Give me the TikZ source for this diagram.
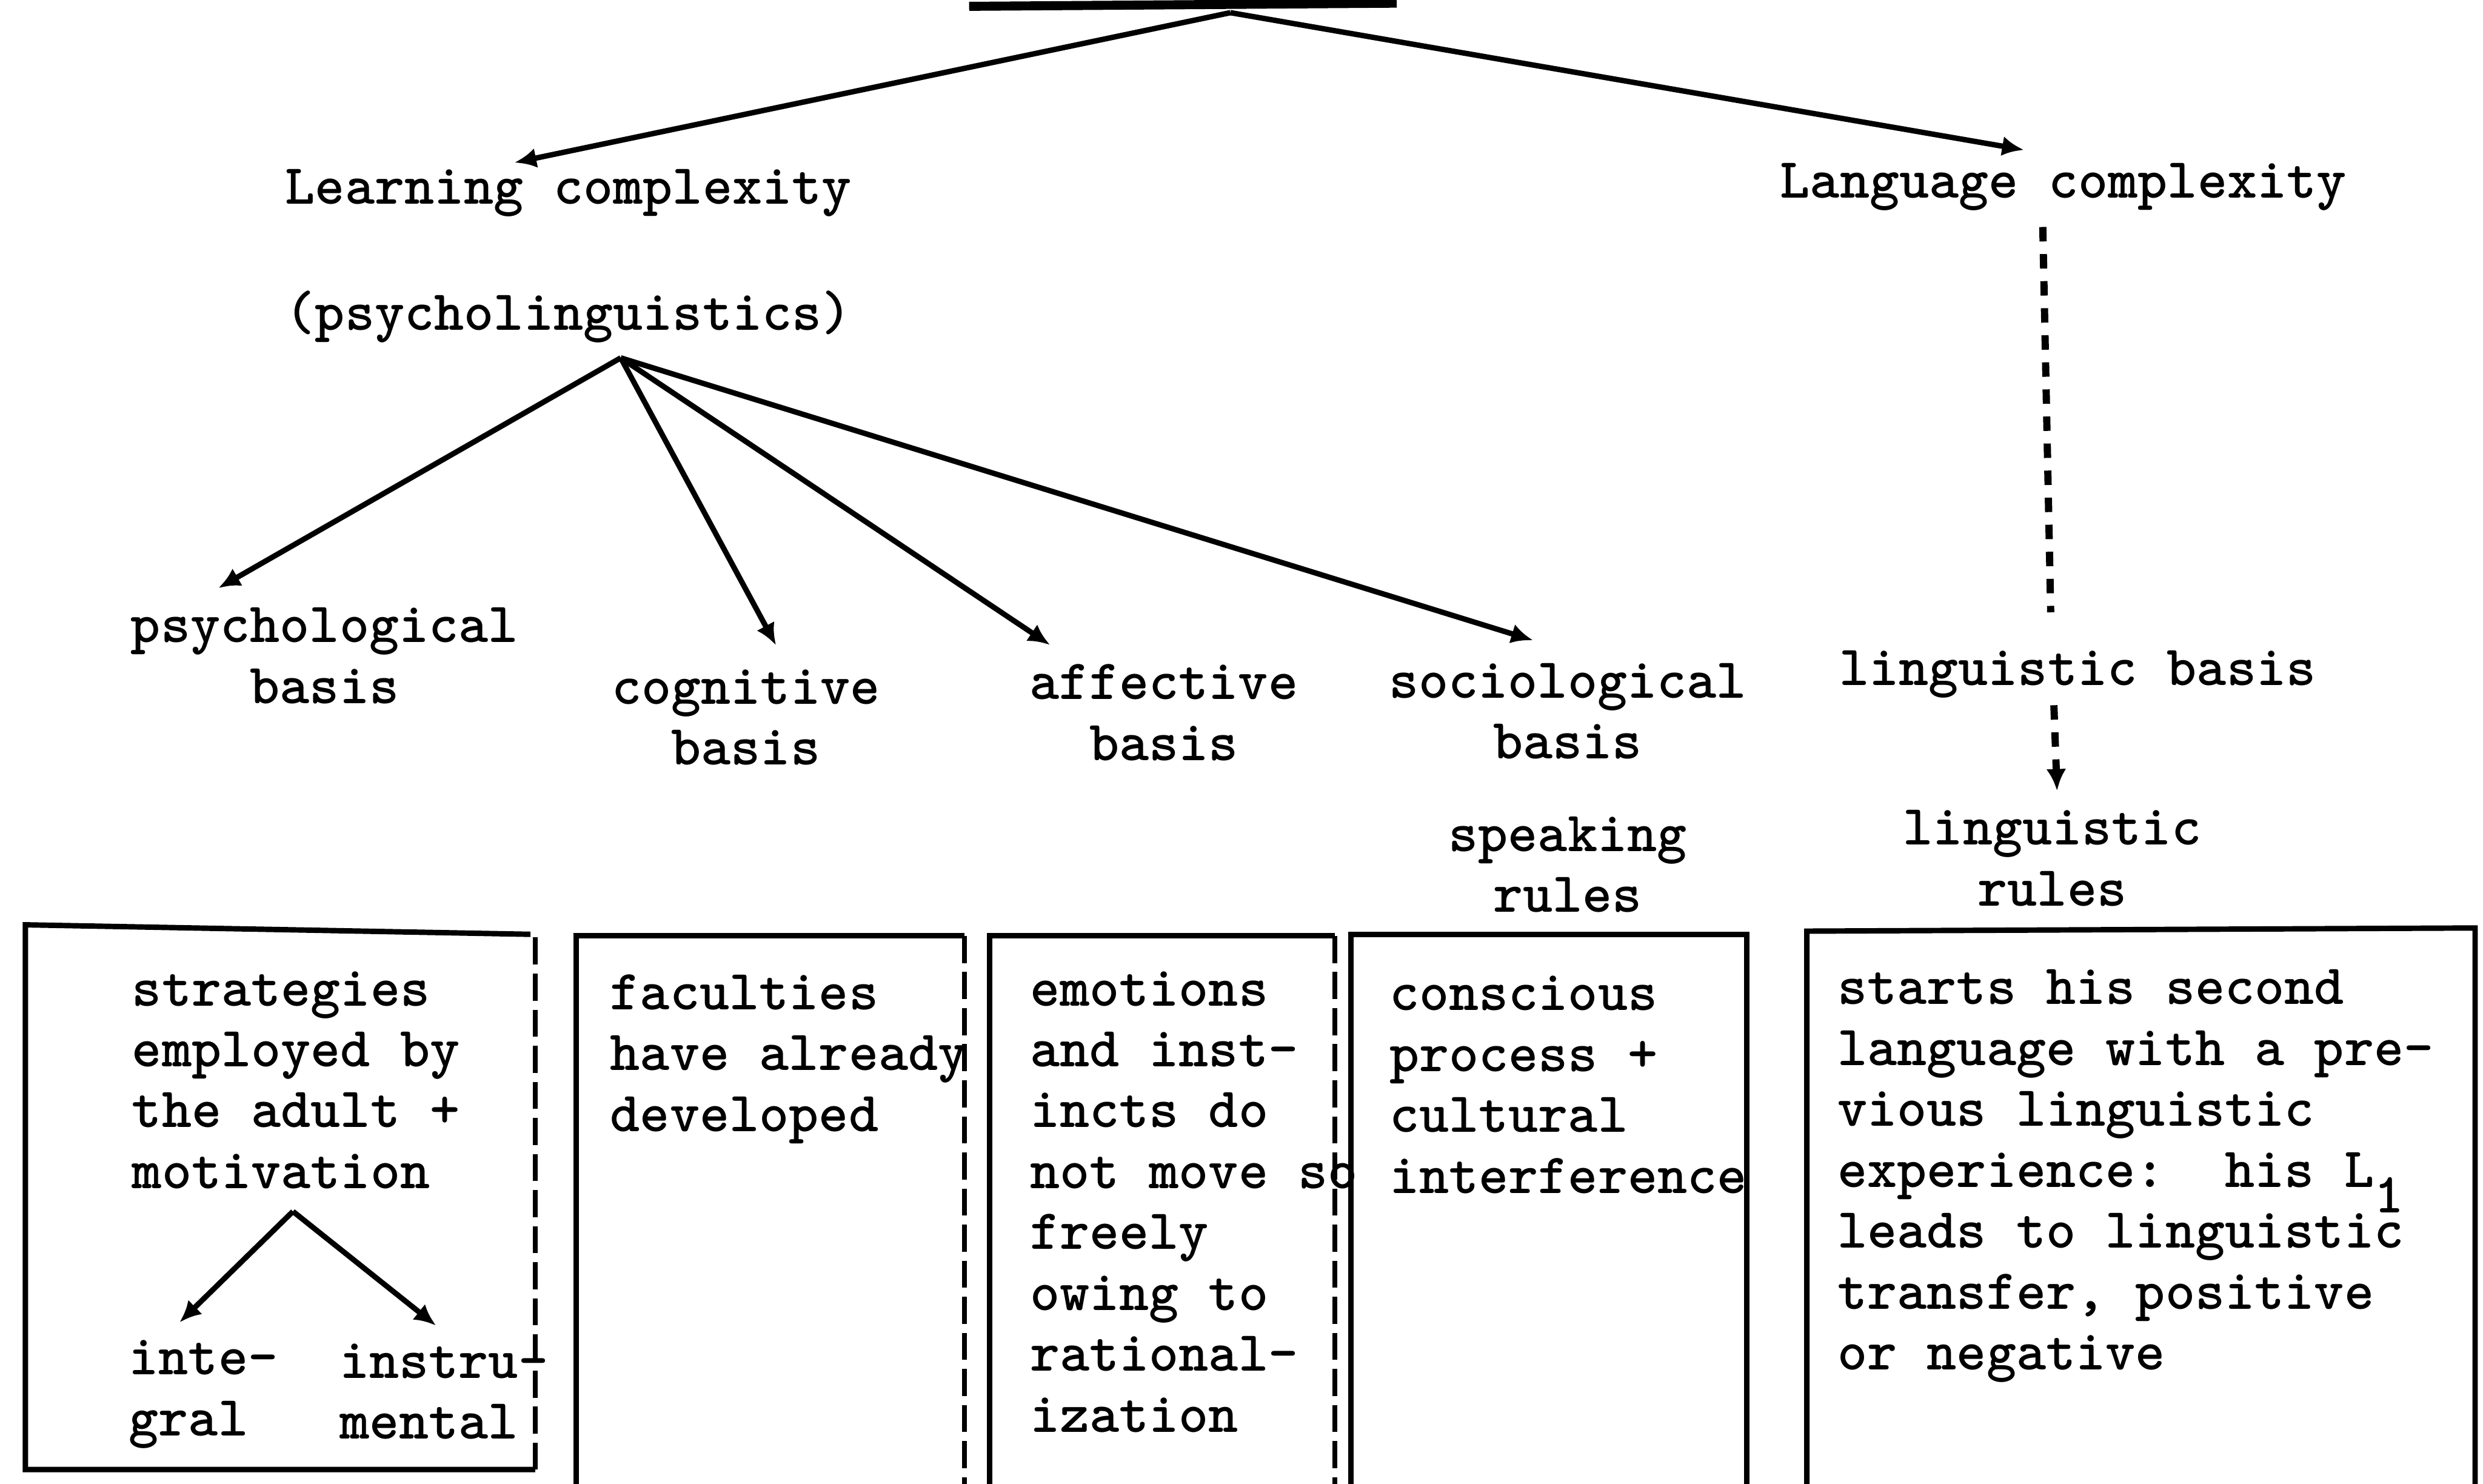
\documentclass[tikz,border=0pt]{standalone}
\usepackage{fontspec}
\setmonofont{lmmonolt10-bold.otf}
\usetikzlibrary{arrows.meta}

\newcommand{\typefont}{\ttfamily\fontsize{17.9pt}{19.2pt}\selectfont}

\begin{document}
\begin{tikzpicture}[
    x=0.1755mm, y=-0.1755mm,
    lbl/.style={font=\typefont, align=center, inner sep=1pt},
    para/.style={font=\typefont, align=left, inner sep=0pt, anchor=north west},
    rel/.style={-{Latex[length=2.4mm,width=2.2mm]}, line width=0.6mm},
    dots/.style={line width=0.8mm, dash pattern=on 1.6mm off 1.4mm},
    frame/.style={line width=0.6mm},
    ragged/.style={line width=0.5mm, dash pattern=on 3mm off 1mm}
]
    \useasboundingbox (0,0) rectangle (1568,937);

    % heads
    \draw[line width=1mm] (612,4) -- (882,2);
    \coordinate (topfork) at (777,8);
    \node[lbl] (learn) at (359,122) {Learning complexity};
    \node[lbl] (psyling) at (359,200) {(psycholinguistics)};
    \node[lbl] (lang) at (1303,118) {Language complexity};
    \coordinate (psyfork) at (392,226);

    % bases
    \node[lbl] (psych) at (205,414) {psychological\\basis};
    \node[lbl] (cogn) at (471,453) {cognitive\\basis};
    \node[lbl] (affect) at (735,450) {affective\\basis};
    \node[lbl] (socio) at (990,449) {sociological\\basis};
    \node[lbl] (lingbasis) at (1312,426) {linguistic basis};
    \node[lbl] (speakrules) at (990,546) {speaking\\rules};
    \node[lbl] (lingrules) at (1296,542) {linguistic\\rules};

    % box texts
    \node[para] (strat) at (83,613) {strategies\\employed by\\the adult +\\motivation};
    \coordinate (motfork) at (185,765);
    \node[para] (integ) at (81,846) {inte-\\gral};
    \node[para] (instr) at (214,848) {instru-\\mental};
    \node[para] (facult) at (385,615) {faculties\\have already\\developed};
    \node[para] (emot) at (650,613) {emotions\\and inst-\\incts do\\not move so\\freely\\owing to\\rational-\\ization};
    \node[para] (consc) at (877,616) {conscious\\process +\\cultural\\interference};
    \node[para] (starts) at (1160,612) {starts his second\\language with a pre-\\vious linguistic\\experience:\ \ his L\raisebox{-8pt}[0pt][0pt]{1}\\leads to linguistic\\transfer, positive\\or negative};

    % arrows
    \draw[rel] (topfork) -- ([shift={(-34,-2)}]learn.north);
    \draw[rel] (topfork) -- ([shift={(-25,-6)}]lang.north);
    \draw[rel] (psyfork) -- ([shift={(-67,-10)}]psych.north);
    \draw[rel] (psyfork) -- ([shift={(19,-13)}]cogn.north);
    \draw[rel] (psyfork) -- ([shift={(-72,-10)}]affect.north);
    \draw[rel] (psyfork) -- ([shift={(-22,-12)}]socio.north);
    \draw[dots] ([shift={(-13,8)}]lang.south) -- ([shift={(-17,-22)}]lingbasis.north);
    \draw[rel, dots] ([shift={(-15,2)}]lingbasis.south) -- ([shift={(3,-10)}]lingrules.north);
    \draw[rel] (motfork) -- ([shift={(-15,-11)}]integ.north);
    \draw[rel] (motfork) -- ([shift={(-5,-11)}]instr.north);

    % boxes
    \draw[frame] (338,928) -- (16,928) -- (16,584) -- (335,590);
    \draw[ragged] (338,592) -- (338,928);
    \draw[frame] (364,945) -- (364,591) -- (609,591);
    \draw[ragged] (609,591) -- (609,945);
    \draw[frame] (625,945) -- (625,591) -- (843,591);
    \draw[ragged] (843,591) -- (843,945);
    \draw[frame] (853,945) -- (853,590) -- (1103,590) -- (1103,945);
    \draw[frame] (1141,945) -- (1141,588) -- (1563,586) -- (1563,945);
\end{tikzpicture}
\end{document}
